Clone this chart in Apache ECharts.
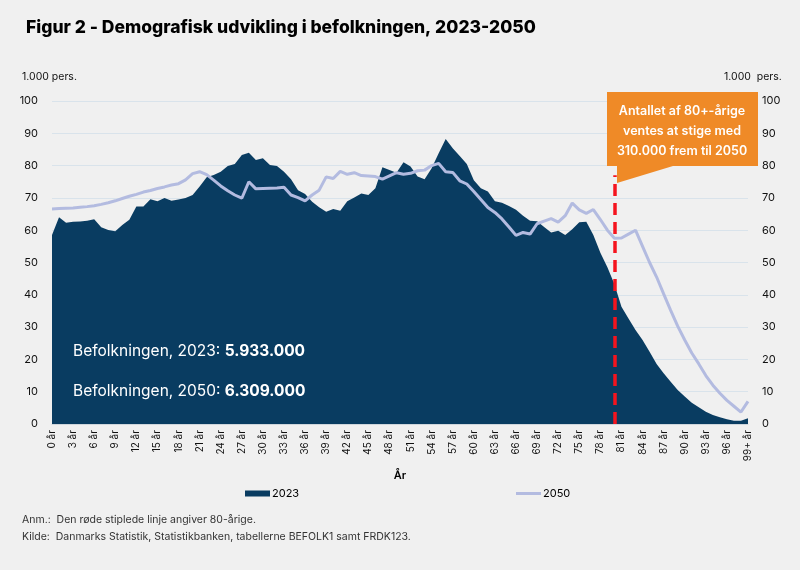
<!DOCTYPE html>
<html>
<head>
<meta charset="utf-8">
<script src="https://cdn.jsdelivr.net/npm/echarts@6/dist/echarts.min.js"></script>
<style>
  html, body { margin: 0; padding: 0; background: #f0f0f0; }
  #chart { width: 800px; height: 570px; }
</style>
</head>
<body>
<div id="chart"></div>
<script>
// alder 0..99+ (1.000 pers.)
const ages = []
for (let a = 0; a < 99; a++) ages.push(a + ' år')
ages.push('99+ år')

const pop2023 = [
  58.5, 64.0, 62.3, 62.6, 62.7, 62.9, 63.4, 60.9, 60.1, 59.7,
  61.6, 63.2, 67.3, 67.3, 69.6, 69.0, 70.0, 69.1, 69.5, 70.0,
  70.9, 73.5, 76.4, 77.1, 78.1, 79.9, 80.5, 83.3, 84.0, 81.7,
  82.3, 80.2, 79.9, 78.1, 75.8, 72.4, 71.2, 68.8, 67.1, 65.7,
  66.6, 66.0, 69.0, 70.1, 71.4, 70.9, 73.0, 79.5, 78.6, 77.8,
  81.0, 79.7, 76.6, 75.8, 79.2, 83.8, 88.2, 85.4, 83.0, 80.5,
  75.5, 73.0, 72.0, 69.0, 68.5, 67.5, 66.3, 64.5, 62.9, 62.8,
  61.0, 59.3, 59.8, 58.5, 60.3, 62.5, 62.6, 58.5, 53.0, 48.5,
  43.3, 36.3, 32.7, 29.1, 26.0, 22.4, 18.6, 15.7, 13.1, 10.5,
  8.5, 6.6, 5.2, 3.8, 2.8, 2.1, 1.5, 1.0, 1.0, 1.8
]

const pop2050 = [
  66.6, 66.7, 66.8, 66.9, 67.1, 67.3, 67.6, 68.0, 68.5, 69.1,
  69.8, 70.5, 71.1, 71.8, 72.3, 72.9, 73.4, 74.0, 74.4, 75.6,
  77.5, 78.1, 77.2, 75.5, 73.7, 72.2, 70.9, 69.9, 75.0, 72.8,
  72.9, 73.0, 73.1, 73.3, 70.9, 70.1, 69.1, 70.9, 72.4, 76.5,
  76.0, 78.2, 77.3, 77.8, 76.9, 76.8, 76.6, 75.8, 76.8, 77.8,
  77.3, 77.6, 78.4, 78.6, 80.0, 80.7, 78.1, 77.9, 75.3, 74.3,
  72.0, 69.5, 67.0, 65.5, 63.5, 61.0, 58.4, 59.3, 58.8, 62.0,
  62.8, 63.6, 62.5, 64.5, 68.4, 66.3, 65.2, 66.4, 63.3, 60.0,
  57.5, 57.6, 58.8, 60.0, 55.0, 50.0, 45.5, 40.3, 35.2, 30.3,
  26.0, 22.0, 18.6, 15.0, 12.0, 9.5, 7.3, 5.5, 3.7, 7.0
]

const yTicks = { min: 0, max: 100, interval: 10 }
const markerAge = '80 år'
const markerTop = 77

const calloutLines = ['Antallet af 80+-årige', 'ventes at stige med', '310.000 frem til 2050']
const totals = [['2023', '5.933.000'], ['2050', '6.309.000']]

const FONT = 'Inter, "Noto Sans", sans-serif'
const NAVY = '#093c61'
const LILAC = '#b3bbe0'

const valueAxis = (pos) => ({
  type: 'value',
  position: pos,
  min: yTicks.min,
  max: yTicks.max,
  interval: yTicks.interval,
  axisLine: { show: false },
  axisTick: { show: false },
  axisLabel: { color: '#111', fontFamily: FONT, fontSize: 11, margin: 14 },
  splitLine: { show: pos === 'left', lineStyle: { color: '#d9e3eb', width: 1 } }
})

const chart = echarts.init(document.getElementById('chart'))

chart.setOption({
  backgroundColor: '#f0f0f0',
  animation: false,
  title: {
    text: 'Figur 2 - Demografisk udvikling i befolkningen, 2023-2050',
    left: 21,
    top: 14,
    textStyle: { fontFamily: FONT, fontWeight: 800, fontSize: 17.5, color: '#000' }
  },
  grid: { left: 52, right: 52, top: 101, bottom: 146 },
  legend: [
    {
      data: ['2023'],
      left: 240,
      top: 483,
      icon: 'rect',
      itemWidth: 25,
      itemHeight: 6,
      itemGap: 3,
      textStyle: { fontFamily: FONT, fontSize: 11, color: '#000', padding: [0, 0, 0, -3] }
    },
    {
      data: ['2050'],
      left: 511,
      top: 483,
      icon: 'rect',
      itemWidth: 25,
      itemHeight: 3,
      textStyle: { fontFamily: FONT, fontSize: 11, color: '#000', padding: [0, 0, 0, -3] }
    }
  ],
  xAxis: {
    type: 'category',
    data: ages,
    boundaryGap: false,
    name: 'År',
    nameLocation: 'middle',
    nameGap: 46,
    nameTextStyle: { fontFamily: FONT, fontSize: 11, fontWeight: 600, color: '#000' },
    axisLine: { lineStyle: { color: '#cfd6dc' } },
    axisTick: { show: false },
    axisLabel: {
      interval: 2,
      rotate: 90,
      fontFamily: FONT,
      fontSize: 10,
      color: '#111',
      margin: 6
    }
  },
  yAxis: [valueAxis('left'), valueAxis('right')],
  series: [
    {
      name: '2023',
      type: 'line',
      data: pop2023,
      showSymbol: false,
      symbol: 'none',
      lineStyle: { width: 0, color: NAVY },
      itemStyle: { color: NAVY },
      areaStyle: { color: NAVY, opacity: 1 },
      z: 2
    },
    {
      name: '2050',
      type: 'line',
      data: pop2050,
      showSymbol: false,
      symbol: 'none',
      lineStyle: { width: 3, color: LILAC },
      itemStyle: { color: LILAC },
      z: 3
    },
    {
      // rød stiplet linje ved 80 år
      name: 'marker',
      type: 'line',
      data: [],
      z: 5,
      markLine: {
        silent: true,
        symbol: 'none',
        animation: false,
        label: { show: false },
        emphasis: { disabled: true },
        lineStyle: { color: '#f5141e', type: [12, 7], width: 3.5, opacity: 1 },
        data: [[{ coord: [markerAge, 0] }, { coord: [markerAge, markerTop] }]]
      }
    }
  ],
  graphic: [
    { type: 'text', left: 22, top: 71, style: { text: '1.000 pers.', font: '10.5px ' + FONT, fill: '#111' } },
    { type: 'text', left: 724, top: 71, style: { text: '1.000  pers.', font: '10.5px ' + FONT, fill: '#111' } },
    {
      type: 'polygon',
      shape: { points: [[607, 92], [758, 92], [758, 166], [673, 166], [617, 183], [617, 166], [607, 166]] },
      style: { fill: '#ef8a27' },
      z: 10
    },
    ...calloutLines.map((t, i) => ({
      type: 'text',
      x: 682,
      y: 111 + i * 20,
      style: { text: t, font: '600 12.5px ' + FONT, fill: '#fff', align: 'center', verticalAlign: 'middle' },
      z: 11
    })),
    ...totals.map((t, i) => ({
      type: 'text',
      x: 73,
      y: 351 + i * 40,
      style: {
        text: '{n|Befolkningen, ' + t[0] + ': }{b|' + t[1] + '}',
        verticalAlign: 'middle',
        rich: {
          n: { font: '15.5px ' + FONT, fill: '#fff' },
          b: { font: 'bold 15.5px ' + FONT, fill: '#fff' }
        }
      },
      z: 11
    })),
    { type: 'text', left: 22, top: 514, style: { text: 'Anm.:  Den røde stiplede linje angiver 80-årige.', font: '10.5px ' + FONT, fill: '#333' } },
    { type: 'text', left: 22, top: 531, style: { text: 'Kilde:  Danmarks Statistik, Statistikbanken, tabellerne BEFOLK1 samt FRDK123.', font: '10.5px ' + FONT, fill: '#333' } }
  ]
})
</script>
</body>
</html>
